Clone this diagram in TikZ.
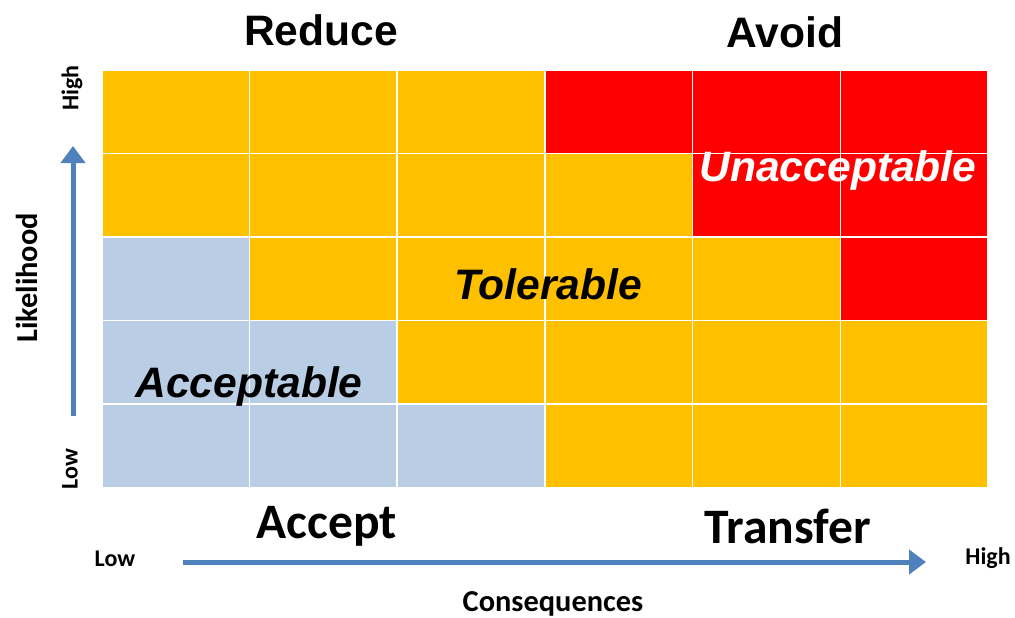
\documentclass[tikz,border=0pt]{standalone}
\usepackage{fontspec}
\setmainfont{Liberation Sans}
\newfontfamily\calib{Carlito}
\usepackage{xcolor}
\usetikzlibrary{arrows.meta}
\definecolor{riskorange}{HTML}{FFC000}
\definecolor{riskred}{HTML}{FF0000}
\definecolor{riskblue}{HTML}{B9CDE5}
\definecolor{axisblue}{HTML}{4F81BD}
\tikzset{
  cell/.style={
    draw=white,line width=0.8pt,minimum width=73.85pt,minimum height=41.8pt,
    inner sep=0pt,anchor=north west,
  },
}
\tikzset{
  zone/.style={font=\fontsize{21.3}{25}\selectfont\bfseries\itshape,inner sep=0pt},
  action/.style={font=\fontsize{21.3}{25}\selectfont\bfseries,inner sep=0pt},
  move/.style={font=\calib\fontsize{24.8}{28}\selectfont\bfseries,inner sep=0pt},
  axislabel/.style={font=\calib\fontsize{15.2}{18}\selectfont\bfseries,inner sep=0pt},
  axisend/.style={font=\calib\fontsize{12}{14}\selectfont\bfseries,inner sep=0pt},
  axisarrow/.style={draw=axisblue,line width=2.5pt,-{Triangle[length=8.5pt,width=12pt]}},
}

\begin{document}
\begin{tikzpicture}[x=0.5pt,y=-0.5pt]
	\useasboundingbox (0,0) rectangle (1015,617);
	% matrix of cells, row by row from the top
	\foreach \c [count=\i from 0] in {
		riskorange,riskorange,riskorange,riskred,riskred,riskred,
		riskorange,riskorange,riskorange,riskorange,riskred,riskred,
		riskblue,riskorange,riskorange,riskorange,riskorange,riskred,
		riskblue,riskblue,riskorange,riskorange,riskorange,riskorange,
		riskblue,riskblue,riskblue,riskorange,riskorange,riskorange}{
		\pgfmathtruncatemacro\cx{mod(\i,6)}
		\pgfmathtruncatemacro\cy{\i/6}
		\node[cell,fill=\c] (cell-\cy-\cx) at ({101+\cx*147.7},{69+\cy*83.6}) {};
	}
	\node[zone] (acc) at (249,386) {Acceptable};
	\node[zone] (tol) at (548,284) {Tolerable};
	\node[zone,white] (unacc) at (838,170) {Unacceptable};
	\node[action] (reduce) at (321,30) {Reduce};
	\node[action] (avoid) at (785,32) {Avoid};
	\node[move] (accept) at (327,526) {Accept};
	\node[move] (transfer) at (788,526) {Transfer};
	% axes
	\coordinate (ybot) at (73,416);
	\coordinate (ytop) at (73,146);
	\coordinate (xleft) at (183,562);
	\coordinate (xright) at (926,562);
	\draw[axisarrow] (ybot) -- (ytop);
	\draw[axisarrow] (xleft) -- (xright);
	\node[axislabel,rotate=90] (like) at (27,278) {Likelihood};
	\node[axislabel] (cons) at (553,604) {Consequences};
	\node[axisend,rotate=90] (yhigh) at (72,88) {High};
	\node[axisend,rotate=90] (ylow) at (70,469) {Low};
	\node[axisend] (xlow) at (115,559) {Low};
	\node[axisend] (xhigh) at (988,558) {High};
\end{tikzpicture}
\end{document}
